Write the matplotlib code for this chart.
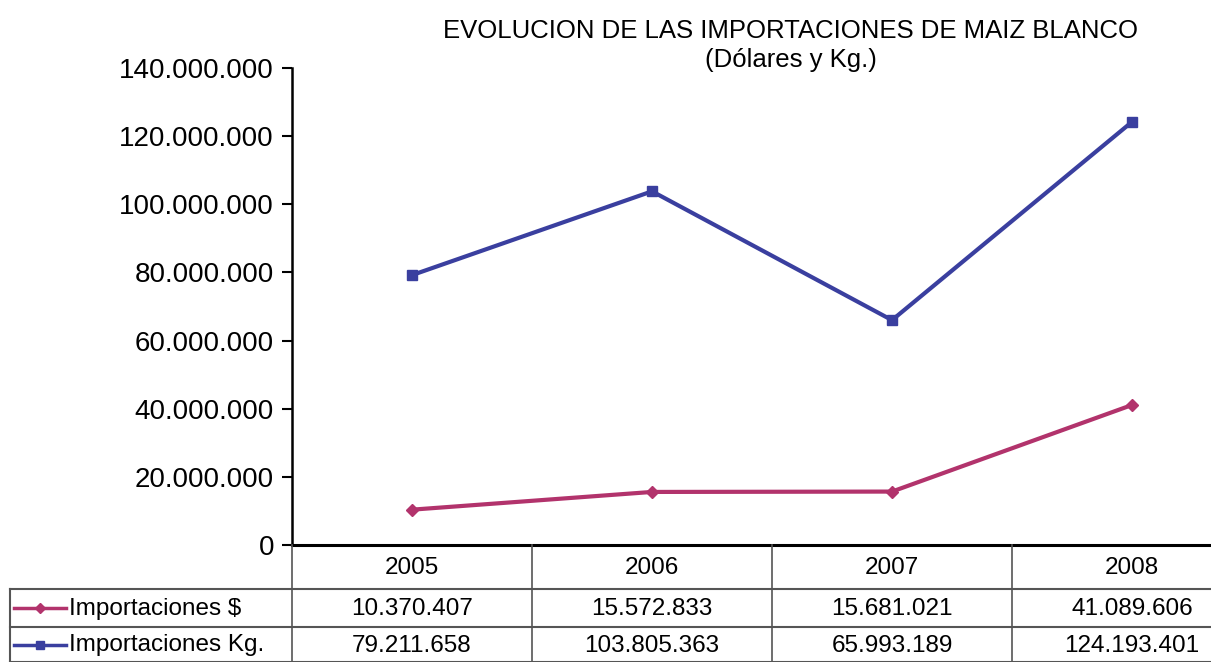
import matplotlib.pyplot as plt
from matplotlib.ticker import FuncFormatter
from matplotlib.lines import Line2D

plt.rcParams['font.family'] = ['Liberation Sans', 'DejaVu Sans']

years = ["2005", "2006", "2007", "2008"]
importaciones_usd = [10370407, 15572833, 15681021, 41089606]
importaciones_kg = [79211658, 103805363, 65993189, 124193401]
series_names = ["Importaciones $", "Importaciones Kg."]
yticks = [0, 20000000, 40000000, 60000000, 80000000, 100000000, 120000000, 140000000]

col_usd = "#b2336c"
col_kg = "#3a3f9f"

W, H = 1211, 662
fig = plt.figure(figsize=(W / 100, H / 100), dpi=100)

# plot area in pixels: left 292, zero line 545, top 68, category width 240
left, bottom, top, cw = 292, 545, 68, 240
ax = fig.add_axes([left / W, (H - bottom) / H, 4 * cw / W, (bottom - top) / H])

x = range(len(years))
ax.plot(x, importaciones_usd, color=col_usd, lw=3, marker="D", ms=6)
ax.plot(x, importaciones_kg, color=col_kg, lw=3, marker="s", ms=7)

ax.set_xlim(-0.5, len(years) - 0.5)
ax.set_ylim(0, 140000000)
ax.set_yticks(yticks)
ax.yaxis.set_major_formatter(FuncFormatter(lambda v, p: f"{int(v):,}".replace(",", ".")))
ax.tick_params(axis="y", labelsize=20, length=7, width=1.5, direction="out", pad=6)
ax.set_xticks([])
for s in ["top", "right"]:
    ax.spines[s].set_visible(False)
ax.spines["left"].set_linewidth(1.8)
ax.spines["bottom"].set_linewidth(2.2)

fig.text(791 / W, 1 - 31 / H, "EVOLUCION DE LAS IMPORTACIONES DE MAIZ BLANCO",
         ha="center", va="center", fontsize=18.5)
fig.text(791 / W, 1 - 60 / H, "(Dólares y Kg.)", ha="center", va="center", fontsize=18.5)

# data table below the axis, drawn in pixel coordinates
tb = fig.add_axes([0, 0, 1, 1])
tb.set_xlim(0, W)
tb.set_ylim(H, 0)
tb.axis("off")

row1, row2, tbl_left = 589, 627, 10
right_edge = left + 4 * cw
lc = "#555555"
tb.plot([tbl_left, right_edge], [row1, row1], color=lc, lw=1.5)
tb.plot([tbl_left, right_edge], [row2, row2], color=lc, lw=1.5)
tb.plot([tbl_left, right_edge], [H, H], color=lc, lw=1.5)
tb.plot([tbl_left, tbl_left], [row1, H], color=lc, lw=1.5)
for i in range(len(years)):
    xl = left + i * cw
    tb.plot([xl, xl], [bottom, H], color=lc, lw=1.2)

rows = [importaciones_usd, importaciones_kg]
for i, yr in enumerate(years):
    xc = left + (i + 0.5) * cw
    tb.text(xc, (bottom + row1) / 2 + 1, yr, ha="center", va="center", fontsize=17.5)
    for r, vals in enumerate(rows):
        yc = (row1 + row2) / 2 + 1 if r == 0 else (row2 + H) / 2 + 1
        tb.text(xc, yc, f"{vals[i]:,}".replace(",", "."), ha="center", va="center", fontsize=17.5)

for r, (name, col, mk, ms) in enumerate(zip(series_names, [col_usd, col_kg], ["D", "s"], [5, 6])):
    yc = (row1 + row2) / 2 if r == 0 else (row2 + H) / 2
    tb.add_line(Line2D([14, 66], [yc, yc], color=col, lw=2.5))
    tb.add_line(Line2D([40], [yc], color=col, marker=mk, ms=ms, lw=0))
    tb.text(69, yc + 1, name, ha="left", va="center", fontsize=17.5)

fig.savefig("out.png", dpi=100)
